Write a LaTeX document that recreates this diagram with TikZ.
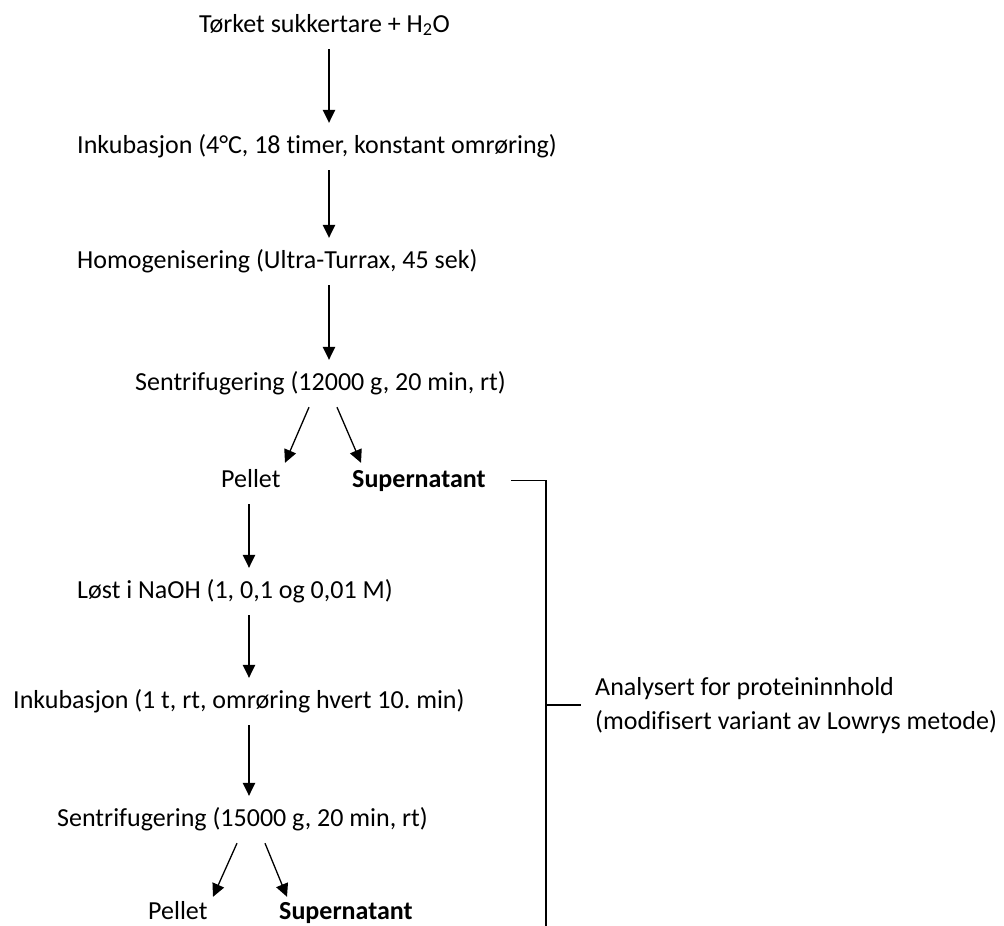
\documentclass[tikz,border=0pt]{standalone}
\usepackage{fontspec}
\setmainfont[Ligatures=NoCommon]{Carlito}
\usepackage{tikz}
\usetikzlibrary{arrows.meta}
\frenchspacing
\tikzset{
stage/.style={
anchor=base west,
inner xsep=0pt,
inner ysep=8pt,
text height=22pt,
text depth=9pt,
font=\fontsize{26}{34}\selectfont
},
result/.style={
stage,
font=\fontsize{26}{34}\selectfont\bfseries
},
note/.style={
anchor=base west,
align=left,
inner sep=0pt,
font=\fontsize{26}{34}\selectfont
},
arrow/.style={
-{Triangle[length=13pt,width=12.5pt]},
line width=1.3pt
},
connector/.style={
line width=1.2pt
}
}

\begin{document}
\begin{tikzpicture}[x=1pt,y=-1pt]
\useasboundingbox (0,0) rectangle (1004,926);
\coordinate (colA) at (329,0);
\coordinate (colB) at (249,0);
\coordinate (z) at (546,926);

\node[stage] (a) at (199,32) {Tørket sukkertare + H\textsubscript{2}O};
\node[stage] (b) at (77,153) {Inkubasjon (4°C, 18 timer, konstant omrøring)};
\node[stage] (c) at (77,268) {Homogenisering (Ultra-Turrax, 45 sek)};
\node[stage] (d) at (135,390) {Sentrifugering (12000 g, 20 min, rt)};
\node[stage] (e) at (221,487) {Pellet};
\node[result] (f) at (352,487) {Supernatant};
\node[stage] (g) at (77,598) {Løst i NaOH (1, 0,1 og 0,01 M)};
\node[stage] (h) at (13,708) {Inkubasjon (1 t, rt, omrøring hvert 10. min)};
\node[stage] (i) at (57,826) {Sentrifugering (15000 g, 20 min, rt)};
\node[stage] (j) at (148,919) {Pellet};
\node[result] (k) at (279,919) {Supernatant};
\node[note] (m) at (595,729) {Analysert for proteininnhold\\(modifisert variant av Lowrys metode)};

\draw[arrow] (a.south -| colA) -- (b.north -| colA);
\draw[arrow] (b.south -| colA) -- (c.north -| colA);
\draw[arrow] (c.south -| colA) -- (d.north -| colA);
\draw[arrow] (d.south -| 309,0) -- ([yshift=-6pt]e.north -| 285,0);
\draw[arrow] (d.south -| 337,0) -- ([yshift=-6pt]f.north -| 361,0);
\draw[arrow] (e.south -| colB) -- (g.north -| colB);
\draw[arrow] (g.south -| colB) -- (h.north -| colB);
\draw[arrow] (h.south -| colB) -- (i.north -| colB);
\draw[arrow] (i.south -| 237,0) -- ([yshift=-8pt]j.north -| 213,0);
\draw[arrow] (i.south -| 265,0) -- ([yshift=-8pt]k.north -| 287,0);

\draw[connector] ([xshift=25pt]f.east) -| (z);
\draw[connector] (m.west -| z) -- ([xshift=-14pt]m.west);
\end{tikzpicture}
\end{document}
